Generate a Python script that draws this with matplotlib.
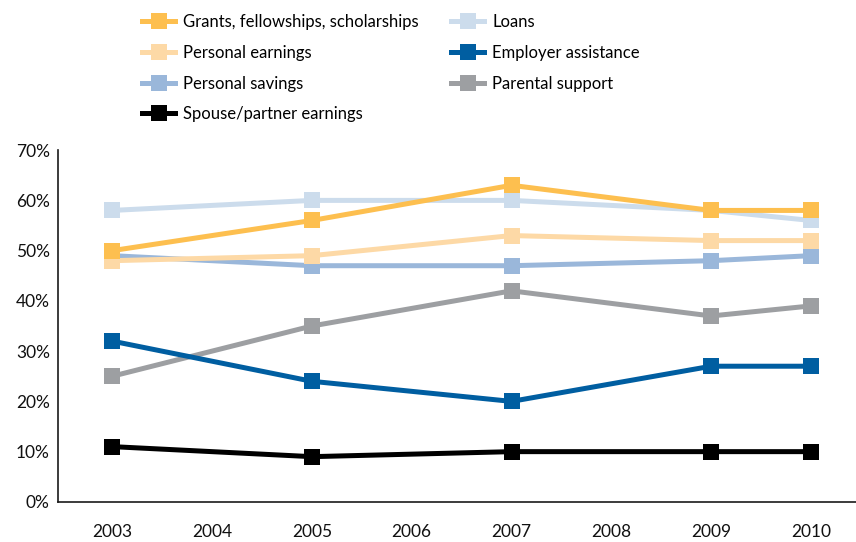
import matplotlib.pyplot as plt
from matplotlib.ticker import FuncFormatter

plt.rcParams['font.family'] = ['Lato', 'DejaVu Sans']

years = [2003, 2005, 2007, 2009, 2010]

grants = [50, 56, 63, 58, 58]
loans = [58, 60, 60, 58, 56]
personal_earnings = [48, 49, 53, 52, 52]
employer = [32, 24, 20, 27, 27]
personal_savings = [49, 47, 47, 48, 49]
parental = [25, 35, 42, 37, 39]
spouse = [11, 9, 10, 10, 10]

# label, values, colour -- listed in legend order (column by column)
series = [
    ('Grants, fellowships, scholarships', grants, '#FDBF4F'),
    ('Personal earnings', personal_earnings, '#FDD9A6'),
    ('Personal savings', personal_savings, '#9AB7DA'),
    ('Spouse/partner earnings', spouse, '#000000'),
    ('Loans', loans, '#CCDCEC'),
    ('Employer assistance', employer, '#005EA1'),
    ('Parental support', parental, '#9D9FA2'),
]
# drawing order, bottom first
z_order = ['Spouse/partner earnings', 'Parental support', 'Personal savings',
           'Employer assistance', 'Personal earnings', 'Loans',
           'Grants, fellowships, scholarships']

fig = plt.figure(figsize=(8.56, 5.42), dpi=100)
ax = fig.add_axes([0.068, 0.074, 0.932, 0.649])

handles = []
for label, vals, color in series:
    z = 2 + z_order.index(label)
    h, = ax.plot(years, vals, color=color, linewidth=3.6, marker='s',
                 markersize=11, markeredgewidth=0, label=label, zorder=z,
                 solid_joinstyle='miter')
    handles.append(h)

ax.set_xlim(2002.46, 2010.45)
ax.set_ylim(0, 70)
ax.set_xticks(range(2003, 2011))
ax.set_yticks(range(0, 71, 10))
ax.yaxis.set_major_formatter(FuncFormatter(lambda v, p: f'{v:.0f}%'))
ax.tick_params(axis='both', length=0, labelsize=12.5, colors='#111111')
ax.tick_params(axis='x', pad=16)
ax.tick_params(axis='y', pad=6)

for side in ['top', 'right']:
    ax.spines[side].set_visible(False)
for side in ['left', 'bottom']:
    ax.spines[side].set_color('#1a1a1a')
    ax.spines[side].set_linewidth(1.2)

fig.legend(handles=handles, ncol=2, loc='upper left',
           bbox_to_anchor=(0.1566, 0.989), frameon=False, fontsize=12,
           borderpad=0, handlelength=1.95, handletextpad=0.5,
           columnspacing=1.95, labelspacing=0.88)

fig.savefig('out.png', dpi=100)
